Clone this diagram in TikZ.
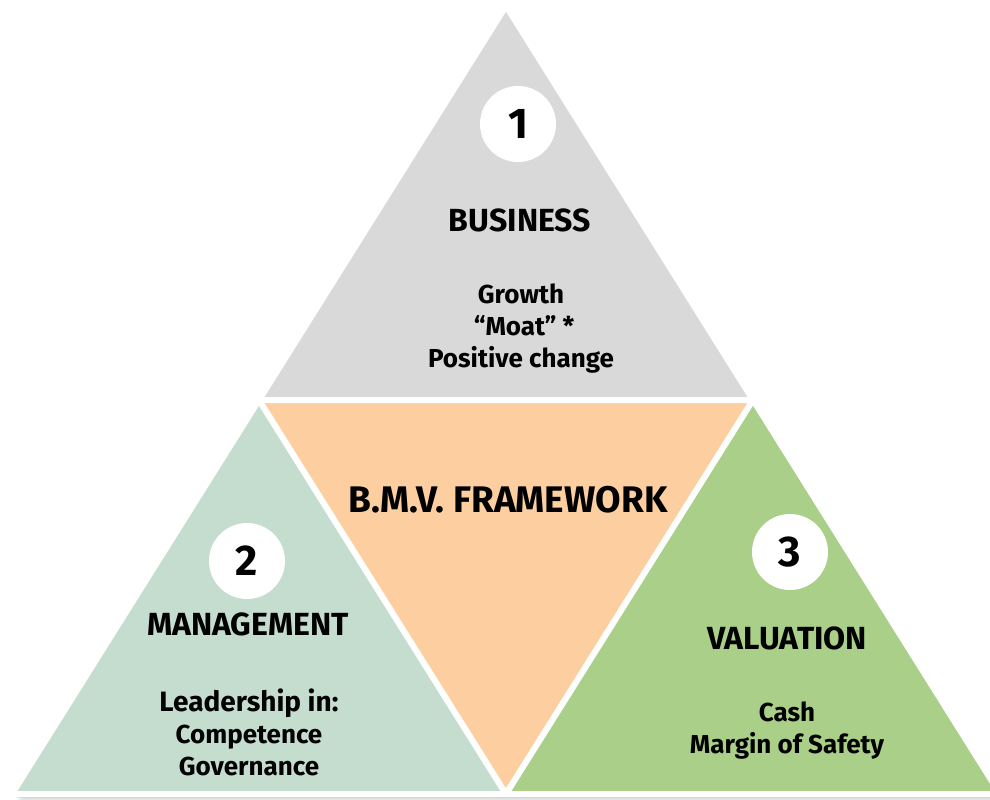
\documentclass[tikz,border=0pt]{standalone}
\usepackage{fontspec}
\setmainfont{Fira Sans}
\definecolor{bizgray}{HTML}{D9D9D9}
\definecolor{mgmtgreen}{HTML}{C5DDCE}
\definecolor{frameorange}{HTML}{FDCFA0}
\definecolor{valgreen}{HTML}{A9CF89}

\begin{document}
\begin{tikzpicture}[x=1pt, y=-1pt,
    part/.style={draw=white, line width=6pt, line join=round},
    badge/.style={circle, fill=white, minimum size=76pt, inner sep=0pt,
      font=\fontsize{43}{43}\selectfont\bfseries},
    heading/.style={font=\fontsize{32}{32}\selectfont\bfseries},
    body/.style={align=center, font=\fontsize{26}{32}\selectfont\bfseries}]
  \useasboundingbox (0,0) rectangle (990,800);

  % Corners of the big triangle
  \coordinate (t) at (506,6);
  \coordinate (a) at (12,794);
  \coordinate (b) at (1000,794);
  \coordinate (l) at (259,400);
  \coordinate (r) at (753,400);
  \coordinate (m) at (506,794);

  % Soft shadow
  \foreach \s/\o in {2/0.14, 4/0.1, 6/0.07, 8/0.04}
    \fill[black, opacity=\o]
      ([xshift=\s pt, yshift=-\s pt]t) -- ([xshift=\s pt, yshift=-\s pt]b)
      -- ([xshift=\s pt, yshift=-\s pt]a) -- cycle;

  % The four parts
  \filldraw[part, fill=bizgray] (t) -- (r) -- (l) -- cycle;
  \filldraw[part, fill=mgmtgreen] (l) -- (m) -- (a) -- cycle;
  \filldraw[part, fill=frameorange] (l) -- (r) -- (m) -- cycle;
  \filldraw[part, fill=valgreen] (r) -- (b) -- (m) -- cycle;

  % Business
  \node[badge] (n1) at (518,124) {1};
  \node[heading] (bus) at (520,220) {BUSINESS};
  \node[body] (busx) at (521,329) {Growth\\ ~“Moat” *\\ Positive change};

  % Management
  \node[badge] (n2) at (247,561) {2};
  \node[heading] (man) at (248,624) {MANAGEMENT};
  \node[body] (manx) at (249,732)
    {{\fontsize{28}{32}\selectfont Leadership in:}\\ Competence\\ Governance};

  % Framework
  \node[heading, font=\fontsize{37}{37}\selectfont\bfseries] (frame) at (508,500) {B.M.V. FRAMEWORK};

  % Valuation
  \node[badge] (n3) at (790,552) {3};
  \node[heading] (val) at (787,638) {VALUATION};
  \node[body] (valx) at (787,731) {Cash\\ Margin of Safety};
\end{tikzpicture}
\end{document}
